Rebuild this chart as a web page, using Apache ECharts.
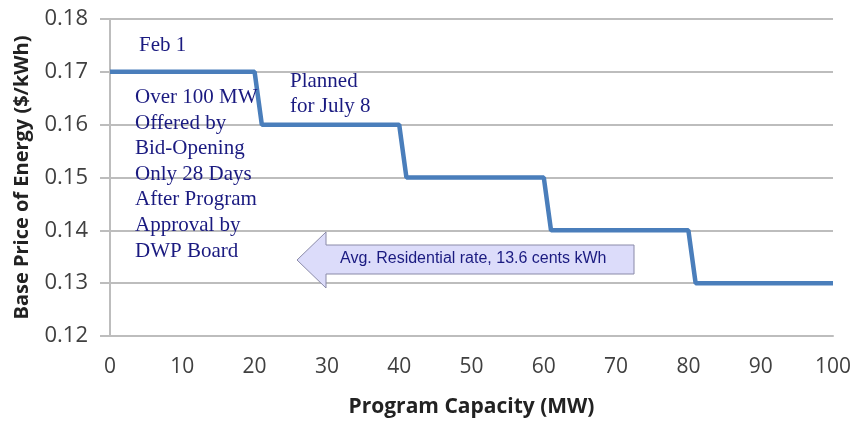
<!DOCTYPE html>
<html>
<head>
<meta charset="utf-8">
<script src="https://cdn.jsdelivr.net/npm/echarts@6/dist/echarts.min.js"></script>
<style>
html, body { margin: 0; padding: 0; background: #fff; }
#chart { width: 854px; height: 423px; }
</style>
</head>
<body>
<div id="chart"></div>
<script>
// step curve: capacity (MW) vs base price ($/kWh)
var capacity = [0, 20, 21, 40, 41, 60, 61, 80, 81, 100];
var price = [0.17, 0.17, 0.16, 0.16, 0.15, 0.15, 0.14, 0.14, 0.13, 0.13];

var noteLeft = ['Over 100 MW', 'Offered by', 'Bid-Opening', 'Only 28 Days', 'After Program', 'Approval by', 'DWP Board'];
var notePlanned = ['Planned', 'for July 8'];
var arrowText = 'Avg. Residential rate, 13.6 cents kWh';

var navy = '#1a1a80';
var gridGray = '#bdbdbd';

var pts = [];
for (var i = 0; i < capacity.length; i++) {
	pts.push([capacity[i], price[i]]);
}

var chart = echarts.init(document.getElementById('chart'));

var serifText = function(x, y, s) {
	return {
		type: 'text', left: x, top: y, z: 10,
		style: { text: s, fill: navy, font: '21px "Liberation Serif", "Times New Roman", serif' }
	};
};

var graphics = [serifText(139, 35, 'Feb 1')];
for (var i = 0; i < noteLeft.length; i++) {
	graphics.push(serifText(135, 87 + i * 25.6, noteLeft[i]));
}
for (var i = 0; i < notePlanned.length; i++) {
	graphics.push(serifText(290, 71 + i * 25, notePlanned[i]));
}
// left arrow annotation
graphics.push({
	type: 'polygon', z: 5,
	shape: { points: [[297, 260], [326, 232], [326, 245], [634, 245], [634, 274], [326, 274], [326, 288]] },
	style: { fill: '#dcdcfa', stroke: '#8a8aa8', lineWidth: 1 }
});
graphics.push({
	type: 'text', left: 340, top: 251, z: 10,
	style: { text: arrowText, fill: navy, font: '16px "Liberation Sans", Arial, sans-serif' }
});

chart.setOption({
	animation: false,
	grid: { left: 110, right: 18, top: 19, bottom: 85 },
	xAxis: {
		type: 'value', min: 0, max: 100, interval: 10,
		name: 'Program Capacity (MW)', nameLocation: 'middle', nameGap: 61,
		nameTextStyle: { fontFamily: 'Open Sans', fontWeight: 'bold', fontSize: 21, color: '#222' },
		axisLine: { show: true, lineStyle: { color: gridGray, width: 2 } },
		axisTick: { show: false },
		splitLine: { show: false },
		axisLabel: { margin: 21, fontFamily: 'Open Sans', fontSize: 21, color: '#404040' }
	},
	yAxis: {
		type: 'value', min: 0.12, max: 0.18, interval: 0.01,
		name: 'Base Price of Energy ($/kWh)', nameLocation: 'middle', nameGap: 78, nameRotate: 90,
		nameTextStyle: { fontFamily: 'Open Sans', fontWeight: 'bold', fontSize: 20, color: '#222' },
		axisLine: { show: true, lineStyle: { color: gridGray, width: 2 } },
		axisTick: { show: true, inside: false, length: 10, lineStyle: { color: gridGray, width: 2 } },
		splitLine: { show: true, lineStyle: { color: gridGray, width: 2 } },
		axisLabel: {
			margin: 22, fontFamily: 'Open Sans', fontSize: 22, color: '#404040',
			formatter: function(v) { return v.toFixed(2); }
		}
	},
	series: [{
		type: 'line',
		data: pts,
		showSymbol: false,
		lineStyle: { color: '#4a7ebb', width: 4.5 },
		z: 3
	}],
	graphic: graphics
});
</script>
</body>
</html>
